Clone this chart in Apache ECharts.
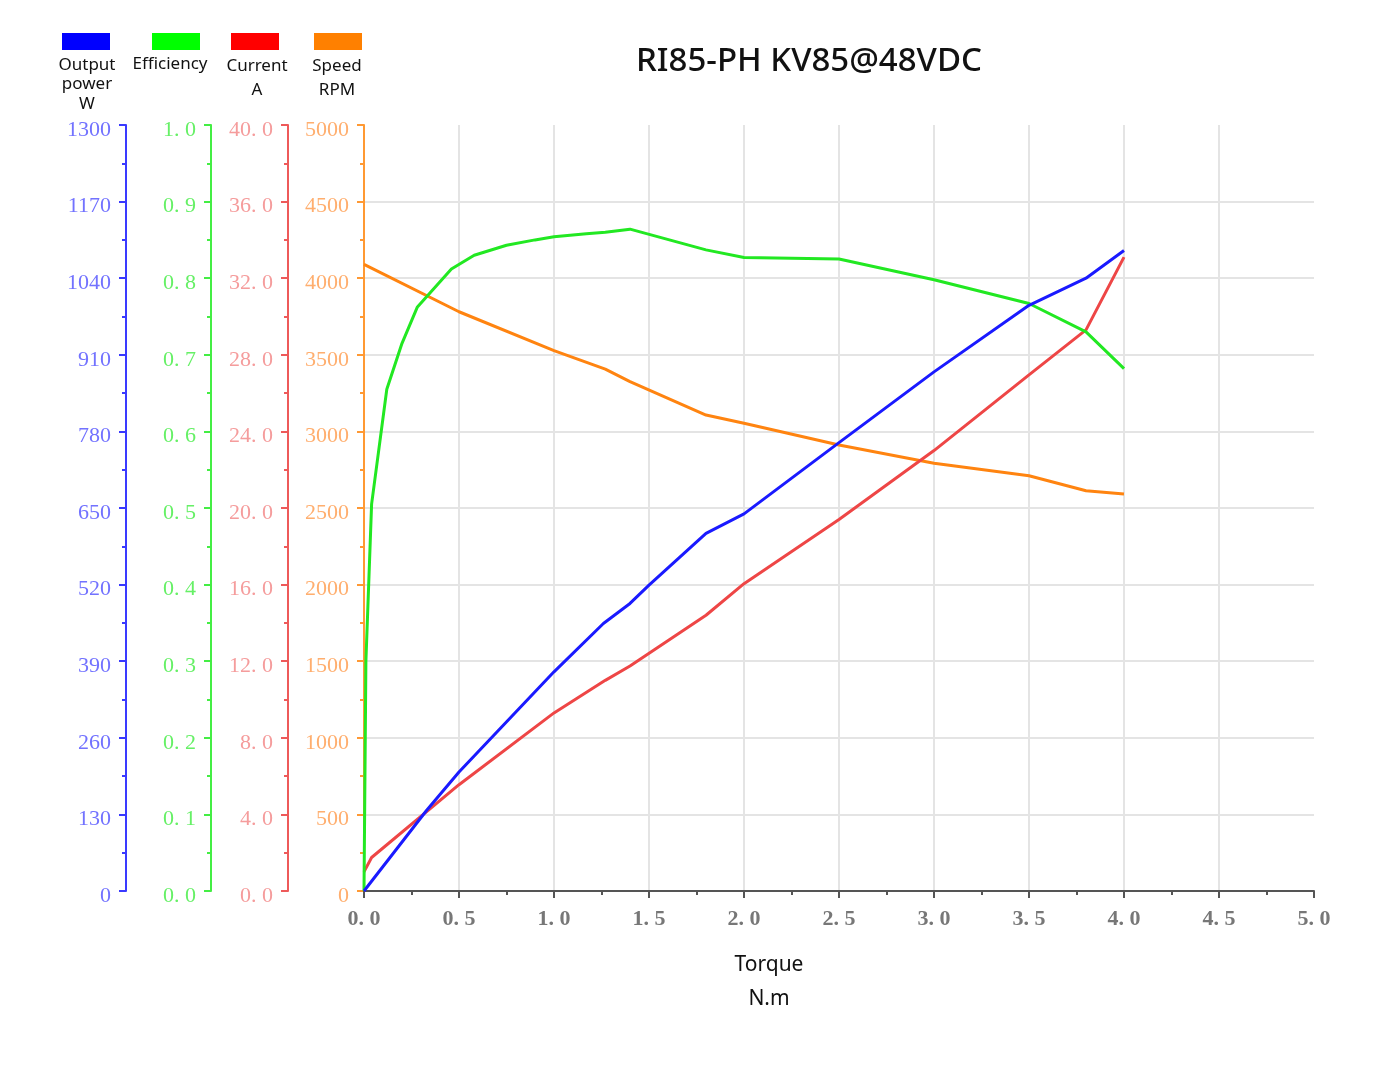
<!DOCTYPE html>
<html>
<head>
<meta charset="utf-8">
<title>RI85-PH KV85@48VDC</title>
<script src="https://cdn.jsdelivr.net/npm/echarts@6/dist/echarts.min.js"></script>
<style>
  html, body { margin: 0; padding: 0; background: #fff; }
  #chart { width: 1396px; height: 1070px; }
</style>
</head>
<body>
<div id="chart"></div>
<script>
// values (torque in N.m)
var xTicks = [0, 0.5, 1.0, 1.5, 2.0, 2.5, 3.0, 3.5, 4.0, 4.5, 5.0];

var powerTorque = [0, 0.33, 0.5, 1.0, 1.26, 1.4, 1.5, 1.8, 2.0, 2.5, 3.0, 3.5, 3.8, 4.0];
var powerW      = [0, 137, 202, 372, 454, 488, 519, 607, 640, 761, 881, 994, 1040, 1087];

var effTorque = [0, 0.01, 0.04, 0.12, 0.2, 0.28, 0.46, 0.58, 0.75, 0.9, 1.0, 1.17, 1.27, 1.4, 1.8, 2.0, 2.5, 3.0, 3.5, 3.8, 4.0];
var effValue  = [0, 0.3, 0.505, 0.655, 0.715, 0.762, 0.812, 0.83, 0.843, 0.85, 0.854, 0.858, 0.86, 0.864, 0.837, 0.827, 0.825, 0.798, 0.767, 0.73, 0.682];

var currTorque = [0, 0.04, 0.5, 1.0, 1.27, 1.4, 1.8, 2.0, 2.5, 3.0, 3.5, 3.8, 4.0];
var currentA   = [1.0, 1.75, 5.55, 9.3, 11.0, 11.75, 14.4, 16.05, 19.4, 23.0, 26.95, 29.3, 33.1];

var speedTorque = [0, 0.5, 1.0, 1.27, 1.4, 1.8, 2.0, 2.5, 3.0, 3.5, 3.8, 4.0];
var speedRpm    = [4090, 3781, 3527, 3407, 3325, 3107, 3053, 2911, 2792, 2711, 2613, 2591];

function pairs(xs, ys) {
	return xs.map(function (x, i) { return [x, ys[i]]; });
}
function dotted(v) {
	return v.toFixed(1).replace('.', '. ');
}

var serif = '"Liberation Serif", "DejaVu Serif", serif';
var sans = '"Noto Sans", "Open Sans", sans-serif';
var gridLine = { show: true, showMaxLine: false, lineStyle: { color: '#e4e4e4', width: 2 } };

function yAxis(max, offset, lineColor, labelColor, fmt) {
	return {
		type: 'value',
		position: 'left',
		offset: offset,
		min: 0,
		max: max,
		interval: max / 10,
		axisLine: { show: true, lineStyle: { color: lineColor, width: 2 } },
		axisTick: { show: true, length: 7, lineStyle: { color: lineColor, width: 2 } },
		minorTick: { show: true, splitNumber: 2, length: 4, lineStyle: { color: lineColor, width: 2 } },
		axisLabel: { color: labelColor, fontFamily: serif, fontSize: 22, margin: 15,
			verticalAlign: 'top', lineHeight: 10, formatter: fmt },
		splitLine: offset === 0 ? gridLine : { show: false }
	};
}

var chart = echarts.init(document.getElementById('chart'));
var option = {
	animation: false,
	backgroundColor: '#fff',
	title: {
		text: 'RI85-PH KV85@48VDC',
		left: 631,
		top: 40,
		textStyle: { fontFamily: sans, fontSize: 33, fontWeight: 500, color: '#111' }
	},
	graphic: [
		{ type: 'rect', left: 62, top: 33, shape: { width: 48, height: 17 }, style: { fill: '#0000ff' } },
		{ type: 'rect', left: 152, top: 33, shape: { width: 48, height: 17 }, style: { fill: '#00ff00' } },
		{ type: 'rect', left: 231, top: 33, shape: { width: 48, height: 17 }, style: { fill: '#ff0000' } },
		{ type: 'rect', left: 314, top: 33, shape: { width: 48, height: 17 }, style: { fill: '#ff8000' } },
		{ type: 'text', x: 87, y: 55, style: { text: 'Output\npower\nW', fill: '#111', font: '17px ' + sans, lineHeight: 19.5, textAlign: 'center' } },
		{ type: 'text', x: 170, y: 55, style: { text: 'Efficiency', fill: '#111', font: '17px ' + sans, lineHeight: 19, textAlign: 'center' } },
		{ type: 'text', x: 257, y: 54, style: { text: 'Current\nA', fill: '#111', font: '17px ' + sans, lineHeight: 24, textAlign: 'center' } },
		{ type: 'text', x: 337, y: 54, style: { text: 'Speed\nRPM', fill: '#111', font: '17px ' + sans, lineHeight: 24, textAlign: 'center' } }
	],
	grid: { left: 364, right: 82, top: 125, bottom: 179, containLabel: false },
	xAxis: {
		type: 'value',
		min: xTicks[0],
		max: xTicks[xTicks.length - 1],
		interval: 0.5,
		name: 'Torque\nN.m',
		nameLocation: 'middle',
		nameGap: 57,
		nameTextStyle: { fontFamily: sans, fontSize: 21, lineHeight: 34, color: '#111', padding: [0, 140, 0, 0] },
		axisLine: { show: true, onZero: false, lineStyle: { color: '#555', width: 2 } },
		axisTick: { show: true, length: 7, lineStyle: { color: '#555', width: 2 } },
		minorTick: { show: true, splitNumber: 2, length: 4, lineStyle: { color: '#555', width: 2 } },
		axisLabel: { color: '#777', fontFamily: serif, fontSize: 22, fontWeight: 'bold', margin: 17, formatter: dotted },
		splitLine: gridLine
	},
	yAxis: [
		yAxis(5000, 0, '#ff9933', '#ffae6e', function (v) { return String(v); }),
		yAxis(40, 76, '#ee5a5a', '#f59c9c', dotted),
		yAxis(1.0, 153, '#44ee44', '#66f066', dotted),
		yAxis(1300, 238, '#3a3aff', '#7272ff', function (v) { return String(Math.round(v)); })
	],
	series: [
		{ name: 'Speed RPM', type: 'line', yAxisIndex: 0, showSymbol: false, data: pairs(speedTorque, speedRpm),
			lineStyle: { color: '#ff8410', width: 3 }, itemStyle: { color: '#ff8410' } },
		{ name: 'Current A', type: 'line', yAxisIndex: 1, showSymbol: false, data: pairs(currTorque, currentA),
			lineStyle: { color: '#ee4646', width: 3 }, itemStyle: { color: '#ee4646' } },
		{ name: 'Efficiency', type: 'line', yAxisIndex: 2, showSymbol: false, data: pairs(effTorque, effValue),
			lineStyle: { color: '#22e822', width: 3 }, itemStyle: { color: '#22e822' } },
		{ name: 'Output power W', type: 'line', yAxisIndex: 3, showSymbol: false, data: pairs(powerTorque, powerW),
			lineStyle: { color: '#1a1aff', width: 3 }, itemStyle: { color: '#1a1aff' } }
	]
};
chart.setOption(option);
</script>
</body>
</html>
